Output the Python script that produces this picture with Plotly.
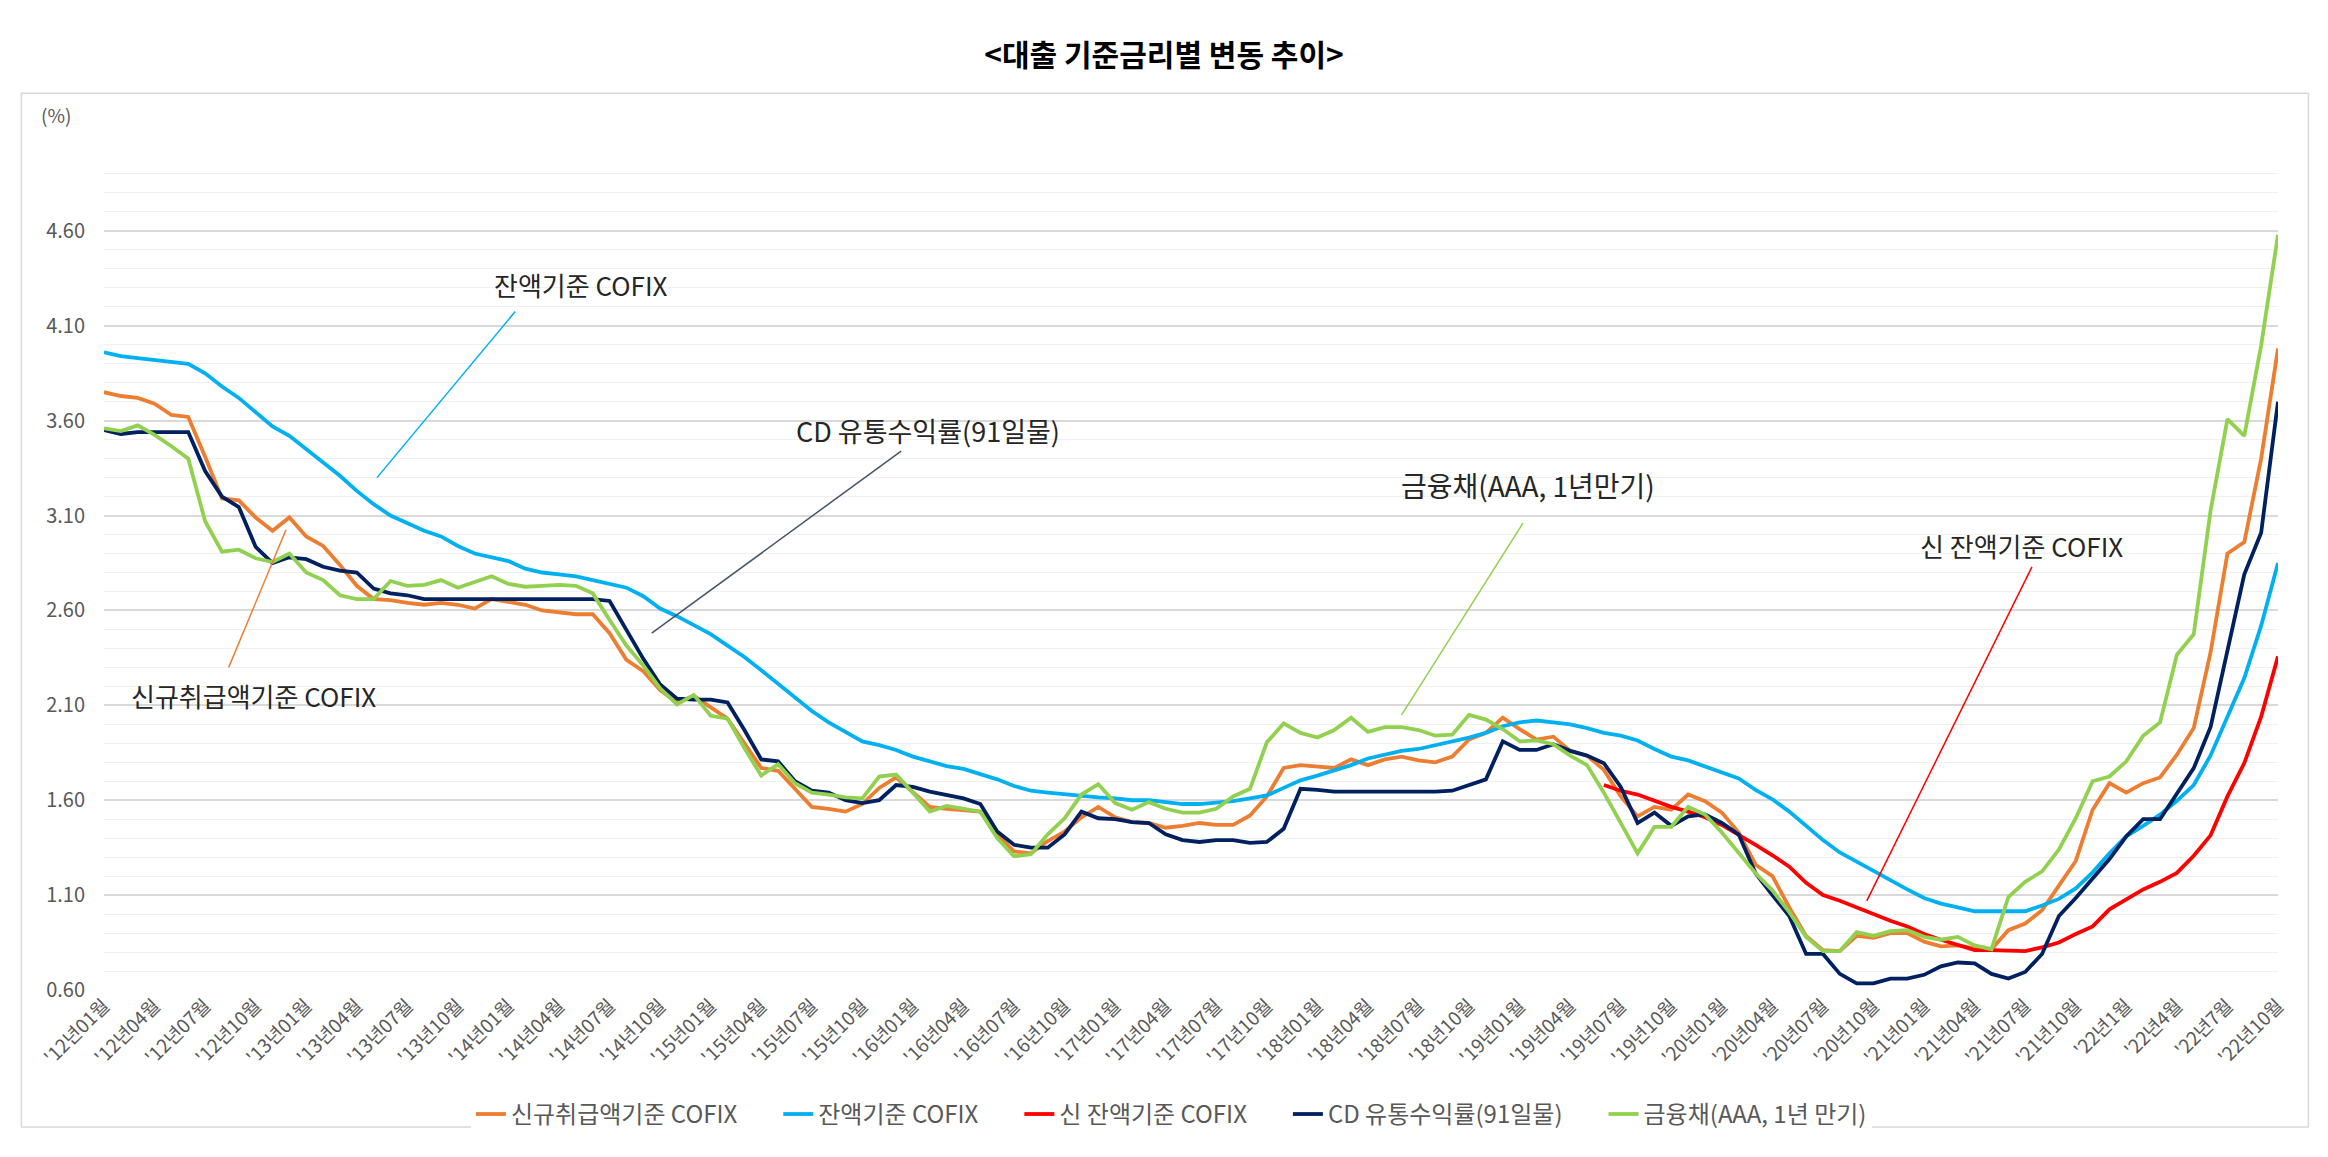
import plotly.graph_objects as go

# 월 인덱스 0 = '12년01월 ... 129 = '22년10월
months = list(range(130))

tick_vals = list(range(0, 130, 3))
tick_labels = [f"'{y}년{m:02d}월" for y in range(12, 22) for m in (1, 4, 7, 10)] + \
    ["'22년1월", "'22년4월", "'22년7월", "'22년10월"]

# 신규취급액기준 COFIX
new_cofix = [
    3.75, 3.73, 3.72, 3.69, 3.63, 3.62, 3.41, 3.19, 3.18, 3.09,
    3.02, 3.09, 2.99, 2.94, 2.84, 2.73, 2.66, 2.655, 2.64, 2.63,
    2.64, 2.63, 2.61, 2.66, 2.645, 2.63, 2.60, 2.59, 2.58, 2.58,
    2.48, 2.34, 2.28, 2.18, 2.115, 2.15, 2.09, 2.03, 1.90, 1.77,
    1.755, 1.66, 1.565, 1.555, 1.54, 1.58, 1.665, 1.72, 1.64, 1.565,
    1.555, 1.55, 1.54, 1.42, 1.33, 1.32, 1.385, 1.435, 1.51, 1.565,
    1.51, 1.485, 1.48, 1.455, 1.465, 1.48, 1.47, 1.47, 1.52, 1.62,
    1.77, 1.785, 1.78, 1.77, 1.815, 1.785, 1.815, 1.83, 1.81, 1.80,
    1.83, 1.92, 1.955, 2.035, 1.975, 1.92, 1.935, 1.86, 1.835, 1.76,
    1.62, 1.515, 1.565, 1.55, 1.63, 1.595, 1.535, 1.43, 1.26, 1.20,
    1.035, 0.885, 0.81, 0.805, 0.885, 0.875, 0.90, 0.90, 0.855, 0.83,
    0.835, 0.82, 0.815, 0.915, 0.95, 1.02, 1.15, 1.28, 1.55, 1.69,
    1.64, 1.69, 1.72, 1.84, 1.98, 2.38, 2.90, 2.96, 3.40, 3.98,
]

# 잔액기준 COFIX
bal_cofix = [
    3.96, 3.94, 3.93, 3.92, 3.91, 3.90, 3.85, 3.78, 3.72, 3.645,
    3.57, 3.52, 3.45, 3.38, 3.31, 3.23, 3.16, 3.10, 3.06, 3.02,
    2.99, 2.94, 2.90, 2.88, 2.86, 2.82, 2.80, 2.79, 2.78, 2.76,
    2.74, 2.72, 2.675, 2.61, 2.57, 2.52, 2.475, 2.415, 2.355, 2.285,
    2.215, 2.14, 2.07, 2.01, 1.96, 1.91, 1.89, 1.865, 1.83, 1.805,
    1.78, 1.765, 1.74, 1.71, 1.675, 1.65, 1.64, 1.63, 1.625, 1.615,
    1.61, 1.60, 1.60, 1.59, 1.58, 1.58, 1.585, 1.595, 1.61, 1.625,
    1.665, 1.705, 1.73, 1.755, 1.785, 1.82, 1.84, 1.86, 1.87, 1.89,
    1.905, 1.93, 1.955, 1.99, 2.01, 2.02, 2.01, 2.00, 1.98, 1.955,
    1.94, 1.915, 1.87, 1.83, 1.81, 1.78, 1.75, 1.715, 1.655, 1.605,
    1.54, 1.465, 1.39, 1.325, 1.275, 1.225, 1.175, 1.13, 1.085, 1.055,
    1.035, 1.015, 1.015, 1.015, 1.015, 1.045, 1.08, 1.135, 1.22, 1.32,
    1.41, 1.465, 1.524, 1.597, 1.68, 1.836, 2.04, 2.244, 2.52, 2.85,
]

# 신 잔액기준 COFIX ('19년06월부터)
new_bal_cofix = [None] * 89 + [
    1.68,
    1.65, 1.63, 1.595, 1.565, 1.54, 1.51, 1.47, 1.42, 1.365, 1.31,
    1.25, 1.165, 1.10, 1.07, 1.035, 0.995, 0.965, 0.935, 0.895, 0.865,
    0.835, 0.81, 0.81, 0.805, 0.805, 0.825, 0.85, 0.895, 0.935, 1.025,
    1.08, 1.13, 1.17, 1.217, 1.307, 1.415, 1.62, 1.796, 2.04, 2.358,
]

# CD 유통수익률(91일물)
cd_rate = [
    3.55, 3.53, 3.54, 3.54, 3.54, 3.54, 3.335, 3.20, 3.145, 2.935,
    2.85, 2.88, 2.87, 2.83, 2.81, 2.80, 2.715, 2.69, 2.68, 2.66,
    2.66, 2.66, 2.66, 2.66, 2.66, 2.66, 2.66, 2.66, 2.66, 2.66,
    2.65, 2.50, 2.345, 2.21, 2.135, 2.13, 2.13, 2.115, 1.97, 1.815,
    1.805, 1.70, 1.65, 1.64, 1.60, 1.585, 1.60, 1.68, 1.67, 1.645,
    1.63, 1.61, 1.58, 1.435, 1.365, 1.35, 1.35, 1.42, 1.54, 1.505,
    1.50, 1.485, 1.48, 1.42, 1.39, 1.38, 1.39, 1.39, 1.375, 1.38,
    1.45, 1.66, 1.655, 1.645, 1.645, 1.645, 1.645, 1.645, 1.645, 1.645,
    1.65, 1.68, 1.71, 1.91, 1.865, 1.865, 1.895, 1.86, 1.835, 1.795,
    1.67, 1.48, 1.535, 1.465, 1.515, 1.525, 1.48, 1.42, 1.215, 1.10,
    0.99, 0.79, 0.79, 0.685, 0.635, 0.635, 0.66, 0.66, 0.68, 0.725,
    0.745, 0.74, 0.685, 0.66, 0.695, 0.79, 0.99, 1.085, 1.185, 1.29,
    1.41, 1.50, 1.50, 1.633, 1.769, 1.986, 2.38, 2.79, 3.01, 3.70,
]

# 금융채(AAA, 1년 만기)
bank_bond = [
    3.56, 3.545, 3.575, 3.525, 3.465, 3.40, 3.07, 2.91, 2.92, 2.875,
    2.855, 2.90, 2.80, 2.76, 2.68, 2.66, 2.66, 2.755, 2.73, 2.735,
    2.76, 2.72, 2.75, 2.78, 2.74, 2.725, 2.73, 2.735, 2.73, 2.69,
    2.55, 2.415, 2.31, 2.19, 2.105, 2.155, 2.045, 2.03, 1.875, 1.73,
    1.79, 1.69, 1.64, 1.63, 1.615, 1.61, 1.725, 1.735, 1.64, 1.54,
    1.57, 1.555, 1.54, 1.40, 1.305, 1.315, 1.42, 1.505, 1.63, 1.685,
    1.585, 1.55, 1.59, 1.555, 1.535, 1.535, 1.555, 1.62, 1.66, 1.905,
    2.005, 1.955, 1.93, 1.97, 2.035, 1.96, 1.985, 1.985, 1.97, 1.94,
    1.945, 2.05, 2.025, 1.975, 1.91, 1.915, 1.895, 1.835, 1.785, 1.64,
    1.48, 1.32, 1.46, 1.46, 1.565, 1.525, 1.43, 1.325, 1.215, 1.125,
    1.01, 0.88, 0.805, 0.805, 0.905, 0.885, 0.91, 0.915, 0.88, 0.865,
    0.88, 0.835, 0.815, 1.09, 1.17, 1.225, 1.34, 1.505, 1.70, 1.725,
    1.805, 1.94, 2.01, 2.366, 2.475, 3.127, 3.608, 3.52, 3.997, 4.58,
]

FONT = "Noto Sans CJK KR"
ORANGE = "#ED7D31"
BLUE = "#00B0F0"
RED = "#FF0000"
NAVY = "#002060"
GREEN = "#92D050"

GAP = "\u2003\u2002"  # 범례 항목 사이 간격

fig = go.Figure()

series = [
    ("신규취급액기준 COFIX", new_cofix, ORANGE),
    ("잔액기준 COFIX", bal_cofix, BLUE),
    ("신 잔액기준 COFIX", new_bal_cofix, RED),
    ("CD 유통수익률(91일물)", cd_rate, NAVY),
    ("금융채(AAA, 1년 만기)", bank_bond, GREEN),
]
for i, (name, vals, color) in enumerate(series):
    fig.add_trace(go.Scatter(
        x=months, y=vals, mode="lines",
        name=name + (GAP if i < len(series) - 1 else ""),
        line=dict(color=color, width=3.8),
        connectgaps=False,
    ))

# 설명 라벨과 지시선
labels = [
    ("잔액기준 COFIX", 28.3, 4.315, (24.4, 4.175, 16.2, 3.30), BLUE, 26),
    ("신규취급액기준 COFIX", 8.9, 2.15, (7.4, 2.30, 10.8, 3.025), ORANGE, 26),
    ("CD 유통수익률(91일물)", 48.9, 3.55, (47.3, 3.44, 32.5, 2.48), "#44546A", 27),
    ("금융채(AAA, 1년만기)", 84.5, 3.26, (84.2, 3.06, 77.0, 2.05), GREEN, 28),
    ("신 잔액기준 COFIX", 113.8, 2.943, (114.4, 2.83, 104.6, 1.07), RED, 26),
]
for text, tx, ty, (x0, y0, x1, y1), color, size in labels:
    fig.add_annotation(x=tx, y=ty, text=text, showarrow=False,
                       font=dict(family=FONT, size=size, color="#262626"))
    fig.add_shape(type="line", x0=x0, y0=y0, x1=x1, y1=y1,
                  line=dict(color=color, width=1.5))

# 단위
fig.add_annotation(xref="paper", yref="paper", x=-0.030, y=1.067,
                   text="(%)", showarrow=False,
                   font=dict(family=FONT, size=19, color="#595959"))

# 차트 테두리
fig.add_shape(type="rect", xref="paper", yref="paper",
              x0=-0.038, x1=1.014, y0=-0.164, y1=1.074,
              line=dict(color="#d9d9d9", width=1.5), layer="below")

fig.update_layout(
    width=2312, height=1141,
    margin=dict(l=96, r=42, t=147, b=145),
    paper_bgcolor="white", plot_bgcolor="white",
    font=dict(family=FONT, color="#595959"),
    title=dict(text="<b>&lt;대출 기준금리별 변동 추이&gt;</b>",
               x=0.5, xref="container", y=0.9588, yanchor="middle",
               font=dict(family=FONT, size=30, color="#000000")),
    showlegend=True,
    legend=dict(orientation="h", x=0.491, xanchor="center",
                y=-0.149, yanchor="middle",
                font=dict(family=FONT, size=24, color="#595959"),
                itemwidth=30),
    xaxis=dict(
        range=[0, 129], tickmode="array", tickvals=tick_vals,
        ticktext=tick_labels, tickangle=-45, showgrid=False,
        zeroline=False, showline=False, ticks="",
        tickfont=dict(family=FONT, size=19, color="#595959"),
    ),
    yaxis=dict(
        range=[0.6, 5.0], tick0=0.6, dtick=0.5, tickformat=".2f",
        showgrid=True, gridcolor="#d9d9d9", gridwidth=1.5,
        zeroline=False, showline=False, ticks="",
        ticklabelstandoff=18,
        tickfont=dict(family=FONT, size=20, color="#595959"),
        minor=dict(dtick=0.1, tick0=0.6, showgrid=True,
                   gridcolor="#f0f0f0", gridwidth=1),
    ),
)

fig.write_html("out.html")
